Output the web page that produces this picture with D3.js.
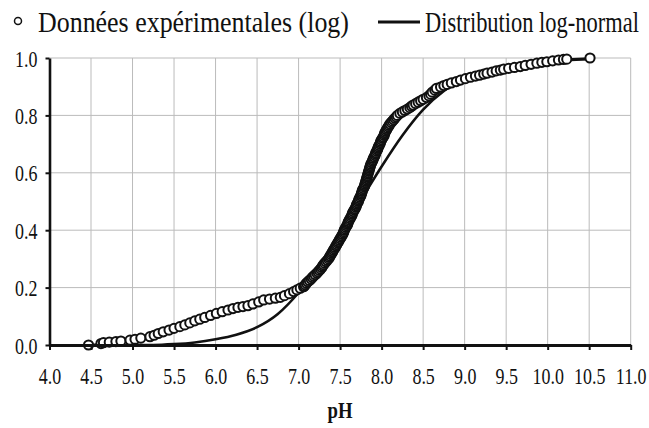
<!DOCTYPE html>
<html>
<head>
<meta charset="utf-8">
<script src="https://cdn.jsdelivr.net/npm/d3@7"></script>
<style>
body { margin: 0; background: #fff; }
text { font-family: "Liberation Serif", "Times New Roman", serif; fill: #111; }
</style>
</head>
<body>
<script>
var phExp = [4.47,4.62,4.65,4.72,4.80,4.86,4.97,5.03,5.10,5.21,5.26,5.31,5.37,5.44,5.50,5.57,5.63,5.69,5.75,5.81,
    5.87,5.94,6.01,6.08,6.15,6.21,6.27,6.33,6.39,6.45,6.52,6.58,6.65,6.72,6.78,6.83,6.89,6.94,6.98,7.02,7.06,
    7.07,7.08,7.095,7.11,7.13,7.15,7.165,7.18,7.20,7.22,7.235,7.25,7.265,7.28,7.29,7.30,7.315,7.33,7.345,7.36,
    7.37,7.38,7.39,7.40,7.41,7.42,7.43,7.44,7.45,7.46,7.47,7.48,7.49,7.50,7.51,7.52,7.53,7.54,7.545,7.55,
    7.56,7.57,7.58,7.59,7.595,7.60,7.61,7.62,7.63,7.64,7.645,7.65,7.66,7.67,7.68,7.69,7.695,7.70,7.71,7.72,
    7.725,7.73,7.74,7.75,7.755,7.76,7.765,7.77,7.78,7.79,7.795,7.80,7.805,7.81,7.815,7.82,7.825,7.83,7.835,7.84,
    7.845,7.85,7.855,7.86,7.865,7.87,7.88,7.89,7.895,7.90,7.91,7.92,7.925,7.93,7.94,7.95,7.955,7.96,7.97,7.98,
    7.985,7.99,8.00,8.01,8.02,8.03,8.035,8.04,8.05,8.06,8.07,8.08,8.09,8.10,8.115,8.13,8.145,8.16,8.175,8.19,8.22,
    8.25,8.28,8.31,8.34,8.36,8.38,8.41,8.44,8.47,8.50,8.54,8.57,8.59,8.61,8.64,8.66,8.71,8.75,8.79,8.84,
    8.90,8.95,9.01,9.07,9.13,9.18,9.23,9.27,9.33,9.38,9.43,9.47,9.53,9.60,9.67,9.73,9.80,9.87,9.93,9.99,
    10.06,10.13,10.19,10.23,10.51];
var freqExp = [0.000,0.005,0.008,0.010,0.012,0.014,0.017,0.020,0.024,0.029,0.034,0.040,0.046,0.052,0.058,0.064,0.070,0.077,0.084,0.090,
    0.096,0.103,0.110,0.116,0.122,0.127,0.131,0.134,0.137,0.143,0.150,0.157,0.160,0.163,0.166,0.172,0.179,0.186,0.192,0.198,0.203,
    0.205,0.210,0.215,0.220,0.225,0.230,0.235,0.240,0.245,0.250,0.255,0.260,0.265,0.270,0.275,0.280,0.285,0.290,0.295,0.300,
    0.305,0.310,0.315,0.320,0.325,0.330,0.335,0.340,0.345,0.350,0.355,0.360,0.365,0.370,0.375,0.380,0.385,0.390,0.395,0.400,
    0.405,0.410,0.415,0.420,0.425,0.430,0.435,0.440,0.445,0.450,0.455,0.460,0.465,0.470,0.475,0.480,0.485,0.490,0.495,0.500,
    0.505,0.510,0.515,0.520,0.525,0.530,0.535,0.540,0.545,0.550,0.555,0.560,0.565,0.570,0.575,0.580,0.585,0.590,0.595,0.600,
    0.605,0.610,0.615,0.620,0.625,0.630,0.635,0.640,0.645,0.650,0.655,0.660,0.665,0.670,0.675,0.680,0.685,0.690,0.695,0.700,
    0.705,0.710,0.715,0.720,0.725,0.730,0.735,0.740,0.745,0.750,0.755,0.760,0.765,0.770,0.775,0.780,0.785,0.790,0.795,0.800,0.807,
    0.812,0.817,0.822,0.827,0.832,0.836,0.841,0.846,0.851,0.856,0.862,0.868,0.874,0.881,0.888,0.894,0.899,0.904,0.908,0.913,
    0.918,0.923,0.928,0.933,0.937,0.940,0.944,0.947,0.951,0.955,0.958,0.961,0.964,0.967,0.970,0.974,0.978,0.982,0.985,0.987,
    0.990,0.993,0.995,0.996,1.000];

// fitted log-normal curve
var phLogn = [5.00,5.25,5.50,5.75,6.00,6.25,6.50,6.75,7.00,7.25,7.50,7.75,8.00,8.25,8.50,8.75,9.00,9.25,9.50,10.00,10.50];
var freqLogn = [0.000,0.000,0.003,0.009,0.020,0.036,0.062,0.108,0.182,0.275,0.385,0.505,0.622,0.730,0.820,0.885,0.927,0.954,0.970,0.988,0.996];

var xTicks = [4.0,4.5,5.0,5.5,6.0,6.5,7.0,7.5,8.0,8.5,9.0,9.5,10.0,10.5,11.0];
var yTicks = [0.0,0.2,0.4,0.6,0.8,1.0];
var legendLabels = ["Données expérimentales (log)", "Distribution log-normal"];
var xTitle = "pH";

var W = 649, H = 428;
var plot = {left: 49.5, right: 630.7, top: 58, bottom: 345};
var squeeze = 0.78;

var svg = d3.select("body").append("svg")
    .attr("width", W)
    .attr("height", H);

var x = d3.scaleLinear().domain([4, 11]).range([plot.left, plot.right]);
var y = d3.scaleLinear().domain([0, 1]).range([plot.bottom, plot.top]);

// grid
svg.append("g").selectAll("line")
    .data(xTicks.slice(1))
    .enter().append("line")
    .attr("x1", function(d) { return x(d); })
    .attr("x2", function(d) { return x(d); })
    .attr("y1", y(0))
    .attr("y2", y(1))
    .attr("stroke", "#bbb")
    .attr("stroke-width", 1);

svg.append("g").selectAll("line")
    .data(yTicks.slice(1))
    .enter().append("line")
    .attr("x1", x(4))
    .attr("x2", x(11))
    .attr("y1", function(d) { return y(d); })
    .attr("y2", function(d) { return y(d); })
    .attr("stroke", "#bbb")
    .attr("stroke-width", 1);

// log-normal curve
var lognData = phLogn.map(function(p, i) { return {ph: p, f: freqLogn[i]}; });
svg.append("path")
    .datum(lognData)
    .attr("fill", "none")
    .attr("stroke", "#111")
    .attr("stroke-width", 2.6)
    .attr("d", d3.line()
        .curve(d3.curveMonotoneX)
        .x(function(d) { return x(d.ph); })
        .y(function(d) { return y(d.f); }));

// experimental points
var expData = phExp.map(function(p, i) { return {ph: p, f: freqExp[i]}; });
svg.append("path")
    .datum(expData)
    .attr("fill", "none")
    .attr("stroke", "#111")
    .attr("stroke-width", 1.6)
    .attr("d", d3.line()
        .x(function(d) { return x(d.ph); })
        .y(function(d) { return y(d.f); }));

svg.append("g").selectAll("circle")
    .data(expData)
    .enter().append("circle")
    .attr("cx", function(d) { return x(d.ph); })
    .attr("cy", function(d) { return y(d.f); })
    .attr("r", 4.6)
    .attr("fill", "#fff")
    .attr("stroke", "#111")
    .attr("stroke-width", 2);

// axes
var xAxis = svg.append("g")
    .attr("transform", "translate(0," + plot.bottom + ")")
    .call(d3.axisBottom(x).tickValues(xTicks).tickSize(5).tickSizeOuter(0).tickFormat(d3.format(".1f")));
xAxis.select(".domain").attr("stroke", "#111").attr("stroke-width", 3);
xAxis.selectAll(".tick line").attr("stroke", "#111").attr("stroke-width", 2);
xAxis.selectAll(".tick text")
    .attr("y", 0)
    .attr("dy", null)
    .attr("transform", "translate(0,39) scale(" + squeeze + ",1)")
    .style("font-size", "23px")
    .style("font-family", "'Liberation Serif', serif")
    .attr("fill", "#111");

var yAxis = svg.append("g")
    .attr("transform", "translate(" + plot.left + ",0)")
    .call(d3.axisLeft(y).tickValues(yTicks).tickSize(4).tickSizeOuter(0).tickFormat(d3.format(".1f")));
yAxis.select(".domain").attr("stroke", "#111").attr("stroke-width", 2.6);
yAxis.selectAll(".tick line").attr("stroke", "#111").attr("stroke-width", 2);
yAxis.selectAll(".tick text")
    .attr("x", 0)
    .attr("dy", "0.35em")
    .attr("transform", "translate(-12,0) scale(" + squeeze + ",1)")
    .style("font-size", "23px")
    .style("font-family", "'Liberation Serif', serif")
    .attr("fill", "#111");

// x title
svg.append("text")
    .attr("transform", "translate(" + ((plot.left + plot.right) / 2) + ",418) scale(" + squeeze + ",1)")
    .attr("text-anchor", "middle")
    .style("font-size", "24px")
    .style("font-weight", "bold")
    .text(xTitle);

// legend: squeeze each label to the width it takes in the picture
function fitText(label, left, baseline, targetWidth) {
    var t = svg.append("text")
        .style("font-size", "29px")
        .text(label);
    var natural = t.node().getComputedTextLength();
    t.attr("transform", "translate(" + left + "," + baseline + ") scale(" + (targetWidth / natural) + ",1)");
}

svg.append("circle")
    .attr("cx", 18)
    .attr("cy", 21)
    .attr("r", 3.5)
    .attr("fill", "#fff")
    .attr("stroke", "#111")
    .attr("stroke-width", 1.5);
fitText(legendLabels[0], 38, 32, 311);
svg.append("line")
    .attr("x1", 378)
    .attr("x2", 420)
    .attr("y1", 22)
    .attr("y2", 22)
    .attr("stroke", "#111")
    .attr("stroke-width", 3);
fitText(legendLabels[1], 425, 32, 214);
</script>
</body>
</html>
